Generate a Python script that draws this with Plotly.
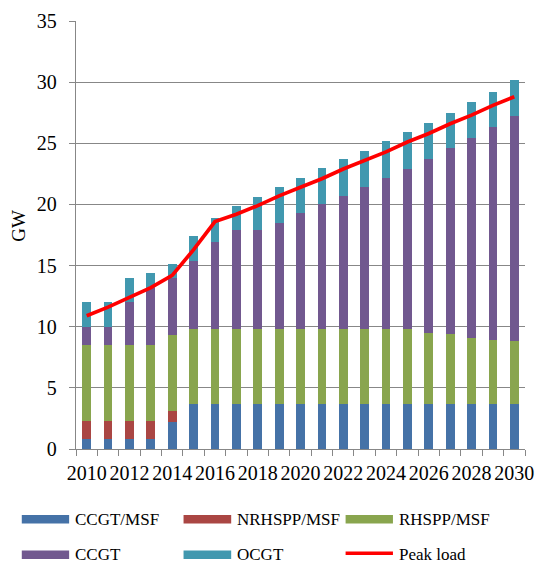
import plotly.graph_objects as go

# Installed capacity by technology (GW) and peak load, 2010-2030
years = list(range(2010, 2031))
ccgt_msf = [0.8, 0.8, 0.8, 0.8, 2.2] + [3.7] * 16
nrhspp_msf = [1.5, 1.5, 1.5, 1.5, 0.9] + [0.0] * 16
rhspp_msf = [6.2, 6.2, 6.2, 6.2, 6.2, 6.1, 6.1, 6.1, 6.1, 6.1, 6.1,
             6.1, 6.1, 6.1, 6.1, 6.1, 5.8, 5.7, 5.4, 5.2, 5.1]
ccgt = [1.5, 1.5, 3.5, 4.7, 4.7, 5.6, 7.1, 8.1, 8.1, 8.7, 9.5,
        10.2, 10.9, 11.6, 12.4, 13.1, 14.2, 15.2, 16.3, 17.4, 18.4]
ocgt = [2.0, 2.0, 2.0, 1.2, 1.1, 2.0, 2.0, 2.0, 2.7, 2.9, 2.9,
        3.0, 3.0, 3.0, 3.0, 3.0, 3.0, 2.9, 3.0, 2.9, 3.0]
peak_load = [10.9, 11.6, 12.4, 13.2, 14.2, 16.3, 18.6, 19.2, 19.9, 20.7, 21.4,
             22.1, 22.9, 23.6, 24.3, 25.1, 25.8, 26.6, 27.3, 28.1, 28.8]

x_labels = [str(y) for y in years[::2]]

series = [
    ("CCGT/MSF", ccgt_msf, "#4572A7"),
    ("NRHSPP/MSF", nrhspp_msf, "#AA4643"),
    ("RHSPP/MSF", rhspp_msf, "#89A54E"),
    ("CCGT", ccgt, "#71588F"),
    ("OCGT", ocgt, "#4198AF"),
]
line_color = "#FF0000"

FONT = "Liberation Serif"
GRID = "#878787"
W, H = 544, 565
L, R, T, B = 76, 10, 16, 116
PW, PH = W - L - R, H - T - B

fig = go.Figure()
for name, vals, color in series:
    fig.add_trace(go.Bar(x=years, y=vals, name=name, width=0.41,
                         marker=dict(color=color, line=dict(width=0)),
                         showlegend=False))
fig.add_trace(go.Scatter(x=years, y=peak_load, name="Peak load", mode="lines",
                         line=dict(color=line_color, width=3.7),
                         showlegend=False))


def px_x(px):
    return (px - L) / PW


def px_y(py):
    return (H - B - py) / PH


# Legend drawn as swatches and labels below the plot area
shapes = []
annotations = []
entries = [(s[0], s[2], "bar") for s in series] + [("Peak load", line_color, "line")]
cols = [(20.7, 69.0, 73.0), (185.7, 234.3, 238.5), (351.0, 399.3, 403.5)]
rows = [520.0, 556.0]
for i, (name, color, kind) in enumerate(entries):
    x0, x1, tx = cols[i % 3]
    cy = rows[i // 3]
    if kind == "bar":
        shapes.append(dict(type="rect", xref="paper", yref="paper",
                           x0=px_x(x0), x1=px_x(x1),
                           y0=px_y(cy + 4.3), y1=px_y(cy - 4.3),
                           fillcolor=color, line=dict(width=0)))
    else:
        shapes.append(dict(type="line", xref="paper", yref="paper",
                           x0=px_x(x0), x1=px_x(x1),
                           y0=px_y(cy - 1.5), y1=px_y(cy - 1.5),
                           line=dict(color=color, width=3.5)))
    annotations.append(dict(text=name, xref="paper", yref="paper",
                            x=px_x(tx), y=px_y(cy), xanchor="left", yanchor="middle",
                            showarrow=False, font=dict(family=FONT, size=17, color="#000")))

annotations.append(dict(text="GW", xref="paper", yref="paper",
                        x=px_x(17), y=px_y(223), textangle=-90,
                        xanchor="center", yanchor="middle", showarrow=False,
                        font=dict(family=FONT, size=19, color="#000")))

boundaries = [y - 0.5 for y in years] + [years[-1] + 0.5]

fig.update_layout(
    width=W, height=H,
    margin=dict(l=L, r=R, t=T, b=B, pad=0),
    barmode="stack",
    bargap=0,
    plot_bgcolor="white", paper_bgcolor="white",
    font=dict(family=FONT, size=19, color="#000"),
    shapes=shapes,
    annotations=annotations,
    xaxis=dict(
        range=[2009.5, 2030.5],
        tickmode="array", tickvals=years[::2], ticktext=x_labels,
        tickangle=0, ticks="", showgrid=False,
        showline=True, linecolor=GRID, linewidth=1.3,
        tickfont=dict(family=FONT, size=20, color="#000"),
        ticklabelstandoff=6,
        minor=dict(tickmode="array", tickvals=boundaries, ticks="outside",
                   ticklen=6, tickcolor=GRID, tickwidth=1.3, showgrid=False),
        zeroline=False, fixedrange=True,
    ),
    yaxis=dict(
        range=[0, 35], dtick=5, tick0=0,
        ticks="outside", ticklen=6, tickcolor=GRID, tickwidth=1.3,
        showgrid=True, gridcolor=GRID, gridwidth=1.3,
        showline=True, linecolor=GRID, linewidth=1.3,
        zeroline=False, ticklabelstandoff=8,
        tickfont=dict(family=FONT, size=20, color="#000"),
        fixedrange=True,
    ),
)

fig.write_html("out.html")
